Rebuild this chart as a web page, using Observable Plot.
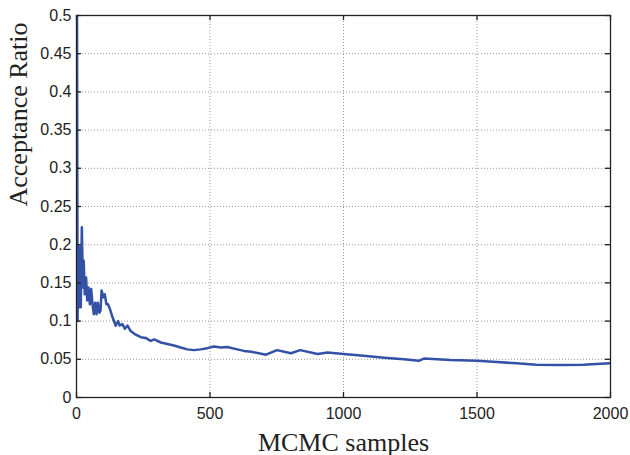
<!DOCTYPE html>
<html>
<head>
<meta charset="utf-8">
<script src="https://cdn.jsdelivr.net/npm/d3@7"></script>
<script src="https://cdn.jsdelivr.net/npm/@observablehq/plot@0.6"></script>
<style>
  html, body { margin: 0; padding: 0; background: #fff; }
</style>
</head>
<body>
<div id="chart"></div>
<script>
const samples = [0, 2, 4, 6, 10, 12, 16, 20, 24, 27, 31, 36, 40, 45, 50, 55, 60, 65, 70, 75, 80, 86, 90, 94, 101, 106, 112, 118, 125, 135, 147, 156, 162, 172, 181, 191, 203, 218, 241, 259, 278, 291, 316, 340, 365, 390, 415, 440, 465, 490, 515, 540, 565, 590, 627, 654, 710, 751, 803, 838, 903, 940, 1000, 1065, 1152, 1226, 1282, 1301, 1400, 1500, 1575, 1649, 1722, 1811, 1898, 1948, 2000];
const ratio = [0.5, 0.5, 0.1, 0.2, 0.118, 0.197, 0.118, 0.223, 0.144, 0.179, 0.135, 0.157, 0.127, 0.144, 0.122, 0.142, 0.122, 0.109, 0.124, 0.109, 0.124, 0.111, 0.114, 0.14, 0.131, 0.135, 0.122, 0.122, 0.116, 0.105, 0.094, 0.1, 0.094, 0.096, 0.09, 0.094, 0.087, 0.083, 0.079, 0.078, 0.074, 0.076, 0.072, 0.07, 0.068, 0.0655, 0.063, 0.062, 0.063, 0.0646, 0.0668, 0.0655, 0.066, 0.064, 0.061, 0.060, 0.056, 0.062, 0.058, 0.062, 0.057, 0.059, 0.057, 0.055, 0.052, 0.050, 0.048, 0.051, 0.049, 0.048, 0.0465, 0.0447, 0.043, 0.0425, 0.043, 0.0439, 0.045];
const xTicks = [0, 500, 1000, 1500, 2000];
const yTicks = [0, 0.05, 0.1, 0.15, 0.2, 0.25, 0.3, 0.35, 0.4, 0.45, 0.5];
const xLabel = "MCMC samples";
const yLabel = "Acceptance Ratio";

const data = samples.map((s, i) => ({s, r: ratio[i]}));
const tickFont = "'Liberation Sans', Arial, Helvetica, sans-serif";
const labelFont = "'Liberation Serif', 'Times New Roman', serif";

const W = 630, H = 455, ML = 76, MR = 20, MT = 15, MB = 58;
const innerW = W - ML - MR, innerH = H - MT - MB, TICK = 5;

const chart = Plot.plot({
  width: W,
  height: H,
  marginLeft: ML,
  marginRight: MR,
  marginTop: MT,
  marginBottom: MB,
  x: {domain: [0, 2000]},
  y: {domain: [0, 0.5]},
  style: {fontFamily: tickFont, background: "#fff"},
  marks: [
    Plot.gridX(xTicks, {stroke: "#999", strokeOpacity: 1, strokeDasharray: "1,2"}),
    Plot.gridY(yTicks, {stroke: "#999", strokeOpacity: 1, strokeDasharray: "1,2"}),
    Plot.line(data, {x: "s", y: "r", stroke: "#3352a6", strokeWidth: 2.5, clip: true}),
    Plot.ruleX(xTicks, {x: d => d, insetTop: innerH - TICK, stroke: "#222", strokeWidth: 1.3}),
    Plot.ruleX(xTicks, {x: d => d, insetBottom: innerH - TICK, stroke: "#222", strokeWidth: 1.3}),
    Plot.ruleY(yTicks, {y: d => d, insetRight: innerW - TICK, stroke: "#222", strokeWidth: 1.3}),
    Plot.ruleY(yTicks, {y: d => d, insetLeft: innerW - TICK, stroke: "#222", strokeWidth: 1.3}),
    Plot.axisX(xTicks, {anchor: "bottom", tickSize: 0, tickPadding: 10, label: null, fontSize: 16, fill: "#222", tickFormat: d => String(d)}),
    Plot.axisY(yTicks, {anchor: "left", tickSize: 0, tickPadding: 5, label: null, fontSize: 16, fill: "#222", tickFormat: d => String(d)}),
    Plot.frame({stroke: "#222", strokeWidth: 1.3}),
    Plot.text([xLabel], {frameAnchor: "bottom", dy: 53, fontSize: 26, fontFamily: labelFont, fill: "#222", lineAnchor: "bottom"}),
    Plot.text([yLabel], {frameAnchor: "left", dx: -50, rotate: -90, fontSize: 26, fontFamily: labelFont, fill: "#222", lineAnchor: "bottom"})
  ]
});
document.getElementById("chart").appendChild(chart);
</script>
</body>
</html>
